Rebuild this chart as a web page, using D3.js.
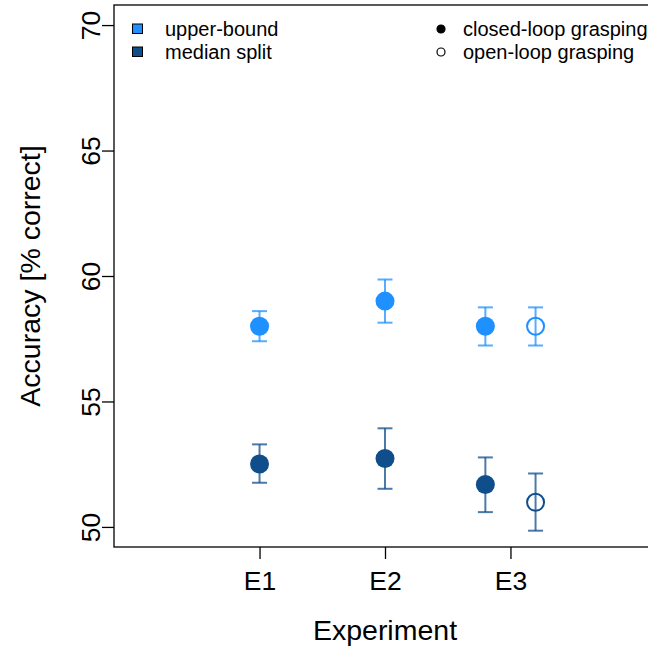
<!DOCTYPE html>
<html>
<head>
<meta charset="utf-8">
<script src="https://cdn.jsdelivr.net/npm/d3@7"></script>
<style>
  body { margin: 0; background: #fff; }
  svg text { font-family: "Liberation Sans", Arial, sans-serif; fill: #000; }
</style>
</head>
<body>
<svg id="chart" width="648" height="647"></svg>
<script>
// data
var experiments = ["E1", "E2", "E3"];
var groups = ["upper-bound", "median split"];
var modes = ["closed-loop grasping", "open-loop grasping"];
var yTicks = [50, 55, 60, 65, 70];

// one entry per point: experiment, mode (0 closed, 1 open)
var pointExp = ["E1", "E2", "E3", "E3"];
var pointMode = [0, 0, 0, 1];

var upperMean = [58.0, 59.0, 58.0, 58.0];
var upperLow = [57.4, 58.14, 57.23, 57.23];
var upperHigh = [58.6, 59.86, 58.75, 58.75];

var medianMean = [52.51, 52.73, 51.69, 50.98];
var medianLow = [51.76, 51.52, 50.59, 49.85];
var medianHigh = [53.29, 53.93, 52.77, 52.13];

var groupColor = ["#1E90FF", "#104E8B"];

var svg = d3.select("#chart");
var pLeft = 114, pRight = 656, pTop = 5, pBottom = 547;

var x = d3.scaleLinear().domain([-0.16, 4.16]).range([pLeft, pRight]);
var y = d3.scaleLinear().domain([49.2, 70.8]).range([pBottom, pTop]);

// x position: experiment number, dodged when an experiment has both modes
function px(i) {
  var e = pointExp[i];
  var n = pointExp.filter(function(d) { return d == e; }).length;
  var base = experiments.indexOf(e) + 1;
  if (n > 1) return x(base + (pointMode[i] == 0 ? -0.2 : 0.2));
  return x(base);
}

// box
svg.append("rect")
  .attr("x", pLeft).attr("y", pTop)
  .attr("width", pRight - pLeft).attr("height", pBottom - pTop)
  .attr("fill", "none").attr("stroke", "#000").attr("stroke-width", 1.3);

// y axis
var yAxis = svg.append("g")
  .attr("transform", "translate(" + pLeft + ",0)")
  .call(d3.axisLeft(y).tickValues(yTicks).tickSize(12).tickFormat(d3.format("d")));
yAxis.select(".domain").remove();
yAxis.selectAll("line").attr("stroke", "#000").attr("stroke-width", 1.3);
yAxis.selectAll("text")
  .attr("font-size", 26.5)
  .attr("x", null).attr("dy", null)
  .attr("text-anchor", "middle")
  .attr("transform", "translate(-14,0) rotate(-90)")
  .attr("y", 0);

// x axis
var xAxis = svg.append("g")
  .attr("transform", "translate(0," + pBottom + ")")
  .call(d3.axisBottom(x).tickValues([1, 2, 3]).tickSize(12)
    .tickFormat(function(d) { return experiments[d - 1]; }));
xAxis.select(".domain").remove();
xAxis.selectAll("line").attr("stroke", "#000").attr("stroke-width", 1.3);
xAxis.selectAll("text")
  .attr("font-size", 26.5)
  .attr("dy", null)
  .attr("y", 43);

// axis titles
svg.append("text")
  .attr("x", (pLeft + pRight) / 2).attr("y", 640)
  .attr("text-anchor", "middle").attr("font-size", 28.5)
  .text("Experiment");
svg.append("text")
  .attr("transform", "translate(40," + ((pTop + pBottom) / 2) + ") rotate(-90)")
  .attr("text-anchor", "middle").attr("font-size", 28.5)
  .text("Accuracy [% correct]");

// series
var series = [
  { mean: upperMean, low: upperLow, high: upperHigh, color: groupColor[0] },
  { mean: medianMean, low: medianLow, high: medianHigh, color: groupColor[1] }
];

series.forEach(function(s) {
  var g = svg.append("g");
  var idx = d3.range(s.mean.length);
  var cap = 7.5;

  g.selectAll(".bar").data(idx).enter().append("line")
    .attr("x1", px).attr("x2", px)
    .attr("y1", function(i) { return y(s.low[i]); })
    .attr("y2", function(i) { return y(s.high[i]); })
    .attr("stroke", s.color).attr("stroke-opacity", 0.75).attr("stroke-width", 2);
  ["low", "high"].forEach(function(k) {
    g.selectAll(".cap" + k).data(idx).enter().append("line")
      .attr("x1", function(i) { return px(i) - cap; })
      .attr("x2", function(i) { return px(i) + cap; })
      .attr("y1", function(i) { return y(s[k][i]); })
      .attr("y2", function(i) { return y(s[k][i]); })
      .attr("stroke", s.color).attr("stroke-opacity", 0.75).attr("stroke-width", 2);
  });

  g.selectAll("circle").data(idx).enter().append("circle")
    .attr("cx", px)
    .attr("cy", function(i) { return y(s.mean[i]); })
    .attr("r", function(i) { return pointMode[i] == 0 ? 9.5 : 8.5; })
    .attr("fill", function(i) { return pointMode[i] == 0 ? s.color : "#fff"; })
    .attr("fill-opacity", function(i) { return pointMode[i] == 0 ? 1 : 0; })
    .attr("stroke", s.color)
    .attr("stroke-width", function(i) { return pointMode[i] == 0 ? 0 : 2; });
});

// legends
var legRows = [29, 52];
groups.forEach(function(name, i) {
  svg.append("rect")
    .attr("x", 132.5).attr("y", legRows[i] - 5)
    .attr("width", 10).attr("height", 9.5)
    .attr("fill", groupColor[i]).attr("stroke", "#000").attr("stroke-width", 1);
  svg.append("text")
    .attr("x", 165).attr("y", legRows[i] + 7)
    .attr("font-size", 20).text(name);
});
modes.forEach(function(name, i) {
  svg.append("circle")
    .attr("cx", 441).attr("cy", legRows[i])
    .attr("r", 4)
    .attr("fill", i == 0 ? "#000" : "#fff")
    .attr("stroke", "#000").attr("stroke-width", 1.2);
  svg.append("text")
    .attr("x", 463).attr("y", legRows[i] + 7)
    .attr("font-size", 20).text(name);
});
</script>
</body>
</html>
